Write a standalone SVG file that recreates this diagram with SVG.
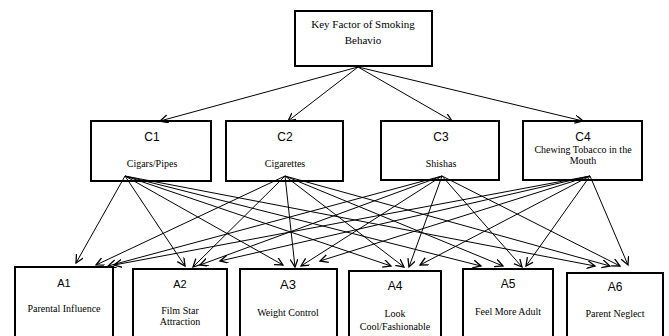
<svg xmlns="http://www.w3.org/2000/svg" width="669" height="336" viewBox="0 0 669 336">
<defs>
<style>
.box{fill:#fff;stroke:#000;stroke-width:2}
.lbl{font-family:"Liberation Sans","DejaVu Sans",sans-serif;font-size:12px;fill:#000;text-anchor:middle}
.txt{font-family:"Liberation Serif","DejaVu Serif",serif;font-size:10px;fill:#000;text-anchor:middle}
.top{font-family:"Liberation Serif","DejaVu Serif",serif;font-size:11px;fill:#000;text-anchor:middle}
.edge{stroke:#000;stroke-width:1;fill:none;marker-end:url(#arr)}
</style>
<marker id="arr" markerUnits="userSpaceOnUse" markerWidth="10" markerHeight="10" refX="8" refY="4" orient="auto">
<path d="M0,0 L8,4 L0,8" fill="none" stroke="#000" stroke-width="1.3"/>
</marker>
</defs>
<g id="root">
<rect class="box" x="295" y="11" width="137" height="55"/>
<text class="top" x="363" y="28">Key Factor of Smoking</text>
<text class="top" x="363" y="44">Behavio</text>
</g>
<g id="C1">
<rect class="box" x="91" y="121" width="120" height="60"/>
<text class="lbl" x="152" y="141">C1</text>
<text class="txt" x="152" y="167">Cigars/Pipes</text>
</g>
<g id="C2">
<rect class="box" x="226" y="121" width="117" height="60"/>
<text class="lbl" x="285" y="141">C2</text>
<text class="txt" x="285" y="167">Cigarettes</text>
</g>
<g id="C3">
<rect class="box" x="381" y="121" width="118" height="59"/>
<text class="lbl" x="441" y="141">C3</text>
<text class="txt" x="441" y="167">Shishas</text>
</g>
<g id="C4">
<rect class="box" x="523" y="121" width="119" height="59"/>
<text class="lbl" x="583" y="141">C4</text>
<text class="txt" x="583" y="153">Chewing Tobacco in the</text>
<text class="txt" x="583" y="164">Mouth</text>
</g>
<g id="A1">
<rect class="box" x="15" y="267" width="98" height="75"/>
<text class="lbl" x="64" y="287" style="font-size:11px">A1</text>
<text class="txt" x="64" y="312">Parental Influence</text>
</g>
<g id="A2">
<rect class="box" x="133" y="269" width="94" height="73"/>
<text class="lbl" x="180" y="288" style="font-size:11px">A2</text>
<text class="txt" x="180" y="314">Film Star</text>
<text class="txt" x="180" y="325">Attraction</text>
</g>
<g id="A3">
<rect class="box" x="240" y="269" width="97" height="73"/>
<text class="lbl" x="288" y="289" style="font-size:13px">A3</text>
<text class="txt" x="288" y="316">Weight Control</text>
</g>
<g id="A4">
<rect class="box" x="349" y="271" width="92" height="71"/>
<text class="lbl" x="395" y="290" style="font-size:12px">A4</text>
<text class="txt" x="395" y="317">Look</text>
<text class="txt" x="395" y="330">Cool/Fashionable</text>
</g>
<g id="A5">
<rect class="box" x="463" y="269" width="90" height="73"/>
<text class="lbl" x="508" y="288" style="font-size:12px">A5</text>
<text class="txt" x="508" y="315">Feel More Adult</text>
</g>
<g id="A6">
<rect class="box" x="567" y="273" width="96" height="69"/>
<text class="lbl" x="615" y="291" style="font-size:12px">A6</text>
<text class="txt" x="615" y="317">Parent Neglect</text>
</g>
<g id="connectors">
<line class="edge" x1="358" y1="67" x2="160" y2="121"/>
<line class="edge" x1="358" y1="67" x2="288" y2="121"/>
<line class="edge" x1="358" y1="67" x2="452" y2="121"/>
<line class="edge" x1="358" y1="67" x2="583" y2="121"/>
<line class="edge" x1="125" y1="176" x2="76" y2="263"/>
<line class="edge" x1="125" y1="176" x2="185" y2="266"/>
<line class="edge" x1="125" y1="176" x2="283" y2="265"/>
<line class="edge" x1="125" y1="176" x2="391" y2="266"/>
<line class="edge" x1="125" y1="176" x2="481" y2="266"/>
<line class="edge" x1="125" y1="176" x2="595" y2="266"/>
<line class="edge" x1="285" y1="176" x2="96" y2="265"/>
<line class="edge" x1="285" y1="176" x2="193" y2="267"/>
<line class="edge" x1="285" y1="176" x2="295" y2="267"/>
<line class="edge" x1="285" y1="176" x2="404" y2="267"/>
<line class="edge" x1="285" y1="176" x2="503" y2="266"/>
<line class="edge" x1="285" y1="176" x2="610" y2="266"/>
<line class="edge" x1="442" y1="176" x2="108" y2="266"/>
<line class="edge" x1="442" y1="176" x2="200" y2="265"/>
<line class="edge" x1="442" y1="176" x2="301" y2="266"/>
<line class="edge" x1="442" y1="176" x2="409" y2="267"/>
<line class="edge" x1="442" y1="176" x2="522" y2="267"/>
<line class="edge" x1="442" y1="176" x2="620" y2="266"/>
<line class="edge" x1="590" y1="176" x2="114" y2="265"/>
<line class="edge" x1="590" y1="176" x2="220" y2="261"/>
<line class="edge" x1="590" y1="176" x2="320" y2="261"/>
<line class="edge" x1="590" y1="176" x2="420" y2="265"/>
<line class="edge" x1="590" y1="176" x2="526" y2="266"/>
<line class="edge" x1="590" y1="176" x2="628" y2="265"/>
</g>
</svg>
